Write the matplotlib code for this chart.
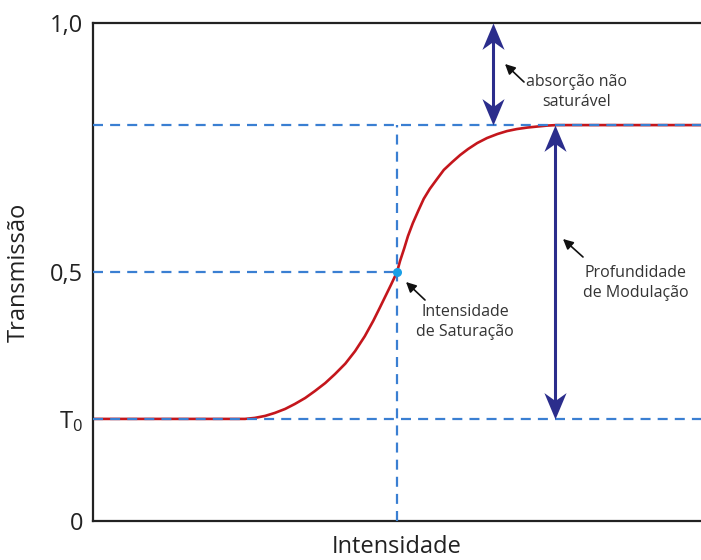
import matplotlib
matplotlib.use("Agg")
import matplotlib.pyplot as plt
from matplotlib.path import Path

plt.rcParams['font.family'] = ['Open Sans', 'DejaVu Sans']
plt.rcParams['mathtext.fontset'] = 'custom'
plt.rcParams['mathtext.rm'] = 'Open Sans'
plt.rcParams['mathtext.it'] = 'Open Sans'

# Transmission levels
t_low = 0.205          # T0 (low intensity transmission)
t_high = 0.795         # saturated transmission
i_sat = 0.5            # saturation intensity
t_sat = 0.5            # transmission at saturation intensity

# Transmission curve vs. intensity (arbitrary units)
intensity = [0.000, 0.250, 0.266, 0.283, 0.299, 0.316, 0.332, 0.349, 0.365,
             0.382, 0.398, 0.415, 0.431, 0.447, 0.461, 0.472, 0.482, 0.490,
             0.500, 0.505, 0.512, 0.518, 0.526, 0.535, 0.544, 0.554, 0.566,
             0.577, 0.591, 0.604, 0.617, 0.632, 0.648, 0.665, 0.681, 0.697,
             0.714, 0.730, 0.747, 0.762, 1.000]
transmission = [0.205, 0.205, 0.207, 0.211, 0.217, 0.225, 0.235, 0.247, 0.261,
                0.277, 0.295, 0.316, 0.341, 0.371, 0.402, 0.429, 0.454, 0.474,
                0.500, 0.522, 0.548, 0.572, 0.598, 0.623, 0.647, 0.667, 0.687,
                0.705, 0.721, 0.735, 0.747, 0.759, 0.769, 0.777, 0.783, 0.787,
                0.790, 0.792, 0.794, 0.795, 0.795]

ytick_pos = [0, t_low, 0.5, 1.0]
ytick_labels = ['0', r'T$_\mathregular{0}$', '0,5', '1,0']

x_abs = 0.658   # position of non-saturable absorption arrow
x_mod = 0.760   # position of modulation depth arrow

blue = '#3a7fd2'
red = '#c4161c'
navy = '#2b2d8c'
txt = '#333333'

# arrowhead with a notched back, tip at the origin
head_up = Path([(0, 0), (-0.42, -1), (0, -0.7), (0.42, -1), (0, 0)],
               [Path.MOVETO, Path.LINETO, Path.LINETO, Path.LINETO, Path.CLOSEPOLY])
head_down = Path([(0, 0), (-0.42, 1), (0, 0.7), (0.42, 1), (0, 0)],
                 [Path.MOVETO, Path.LINETO, Path.LINETO, Path.LINETO, Path.CLOSEPOLY])

fig = plt.figure(figsize=(7.01, 5.60), dpi=100)
ax = fig.add_axes([93/701, 39/560, 1 - 93/701, 498/560])
ax.set_xlim(0, 1)
ax.set_ylim(0, 1)

ax.plot(intensity, transmission, color=red, lw=1.9, zorder=2,
        solid_joinstyle='round', solid_capstyle='butt')

dash = dict(color=blue, lw=1.6, ls=(0, (4.5, 3.2)), zorder=3)
ax.plot([0, 1], [t_high, t_high], **dash)
ax.plot([0, 1], [t_low, t_low], **dash)
ax.plot([0, i_sat], [t_sat, t_sat], **dash)
ax.plot([i_sat, i_sat], [0, t_high], **dash)

ax.plot([i_sat], [t_sat], 'o', color='#1a9fe6', ms=6.5, zorder=5, mec='none')

for (x0, y_top, y_bot) in [(x_abs, 1.0, t_high), (x_mod, t_high, t_low)]:
    ax.plot([x0, x0], [y_top - 0.02, y_bot + 0.02], color=navy, lw=2.2, zorder=6,
            solid_capstyle='butt')
    ax.plot([x0], [y_top], marker=head_up, ms=38, color=navy, mec='none', zorder=7)
    ax.plot([x0], [y_bot], marker=head_down, ms=38, color=navy, mec='none', zorder=7)

def note(text, xy, xytext, tx, ty):
    ax.annotate('', xy=xy, xytext=xytext, xycoords='figure pixels',
                textcoords='figure pixels',
                arrowprops=dict(arrowstyle='-|>,head_length=0.6,head_width=0.3',
                                color='#111111', lw=1.2, shrinkA=0, shrinkB=0))
    fig.text(tx, ty, text, transform=None, ha='center', va='center',
             fontsize=11.5, color=txt, linespacing=1.35)

H = 560
note('absorção não\nsaturável', (505, H - 64), (524, H - 82), 577, H - 92)
note('Profundidade\nde Modulação', (563, H - 239), (583, H - 257), 636, H - 283)
note('Intensidade\nde Saturação', (406, H - 282), (425, H - 300), 465, H - 322)

ax.set_yticks(ytick_pos)
ax.set_yticklabels(ytick_labels, fontsize=17, color='#222222')
ax.set_xticks([])
ax.tick_params(axis='y', length=0, pad=7)

for side in ['left', 'bottom', 'top']:
    ax.spines[side].set_linewidth(1.6)
    ax.spines[side].set_color('#222222')
ax.spines['right'].set_visible(False)

ax.set_xlabel('Intensidade', fontsize=17, color='#222222', labelpad=10)
ax.set_ylabel('Transmissão', fontsize=17, color='#222222', labelpad=14)

fig.savefig('out.png', dpi=100, facecolor='white')
